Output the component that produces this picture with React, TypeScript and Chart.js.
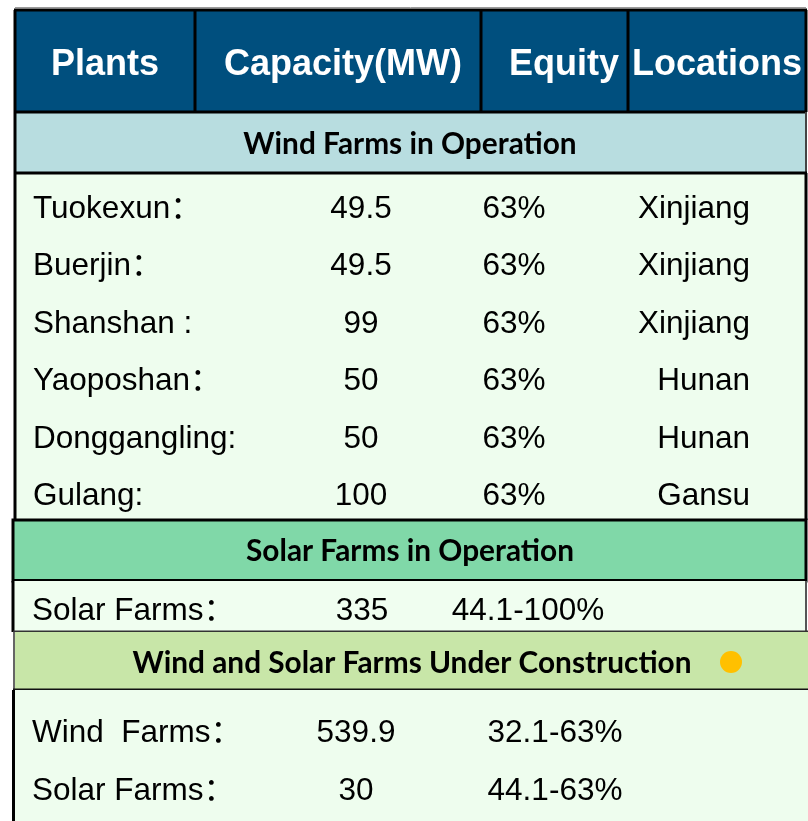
import React, { useEffect, useRef } from "react";
import { Chart, registerables } from "chart.js";

Chart.register(...registerables);

// ---------- data ----------
const headers = ["Plants", "Capacity(MW)", "Equity", "Locations"];

const windSectionTitle = "Wind Farms in Operation";
const windPlants = ["Tuokexun：", "Buerjin：", "Shanshan :", "Yaoposhan：", "Donggangling:", "Gulang:"];
const windCapacity = ["49.5", "49.5", "99", "50", "50", "100"];
const windEquity = ["63%", "63%", "63%", "63%", "63%", "63%"];
const windLocations = ["Xinjiang", "Xinjiang", "Xinjiang", "Hunan", "Hunan", "Gansu"];

const solarSectionTitle = "Solar Farms in Operation";
const solarPlants = ["Solar Farms："];
const solarCapacity = ["335"];
const solarEquity = ["44.1-100%"];

const constructionSectionTitle = "Wind and Solar Farms Under Construction";
const constructionPlants = ["Wind  Farms：", "Solar Farms："];
const constructionCapacity = ["539.9", "30"];
const constructionEquity = ["32.1-63%", "44.1-63%"];

// ---------- layout (scale units == page pixels) ----------
const W = 808;
const H = 821;
const COLS = [15, 195, 481, 628, 806];
const HEADER = [10, 112];
const WIND_BAND = [112, 173];
const WIND_BODY = [173, 520];
const SOLAR_BAND = [520, 581];
const SOLAR_BODY = [581, 632];
const CONS_BAND = [632, 690];
const CONS_BODY = [690, 821];

const NAME_X = 33;
const CAP_X = 361;
const EQ_X = 514;
const LOC_RIGHT = 750;
const WIND_BASE0 = 218;
const WIND_STEP = 57.4;

const BODY_FONT = "31.5px 'Liberation Sans', Arial, 'Noto Sans CJK SC', sans-serif";
const HEAD_FONT = "bold 36px 'Liberation Sans', Arial, sans-serif";
const BAND_FONT = "bold 29.8px Lato, 'Open Sans', sans-serif";

const tablePlugin = {
  id: "tableDraw",
  beforeDatasetsDraw(chart: any) {
    const ctx = chart.ctx as CanvasRenderingContext2D;
    const xs = chart.scales.x;
    const ys = chart.scales.y;
    const X = (v: number) => xs.getPixelForValue(v);
    const Y = (v: number) => ys.getPixelForValue(v);

    const fillRect = (x0: number, y0: number, x1: number, y1: number, color: string) => {
      ctx.fillStyle = color;
      ctx.fillRect(X(x0), Y(y0), X(x1) - X(x0), Y(y1) - Y(y0));
    };
    const line = (x0: number, y0: number, x1: number, y1: number, color = "#000", w = 3) => {
      ctx.strokeStyle = color;
      ctx.lineWidth = w;
      ctx.beginPath();
      ctx.moveTo(X(x0), Y(y0));
      ctx.lineTo(X(x1), Y(y1));
      ctx.stroke();
    };
    const text = (s: string, x: number, y: number, font: string, color: string, align: CanvasTextAlign) => {
      ctx.font = font;
      ctx.fillStyle = color;
      ctx.textAlign = align;
      ctx.textBaseline = "alphabetic";
      ctx.fillText(s, X(x), Y(y));
    };

    ctx.save();
    fillRect(0, 0, W, H, "#ffffff");

    // header
    fillRect(COLS[0], HEADER[0], COLS[4], HEADER[1], "#004F7E");
    line(COLS[0], HEADER[0] - 2.5, COLS[4], HEADER[0] - 2.5, "#9a9a9a", 1);
    line(COLS[0] - 1, HEADER[0], COLS[4] + 1, HEADER[0]);
    line(COLS[0], HEADER[0], COLS[0], HEADER[1]);
    line(COLS[4], HEADER[0], COLS[4], HEADER[1]);
    for (let i = 1; i < COLS.length - 1; i++) line(COLS[i], HEADER[0], COLS[i], HEADER[1]);
    const headerCenters = [105, 343, 564, 717];
    headers.forEach((h, i) => text(h, headerCenters[i], 75, HEAD_FONT, "#ffffff", "center"));

    // wind band
    fillRect(COLS[0], WIND_BAND[0], COLS[4], WIND_BAND[1], "#B8DDE0");
    line(COLS[0] - 1, WIND_BAND[0], COLS[4] + 1, WIND_BAND[0]);
    line(COLS[0], WIND_BAND[0], COLS[0], WIND_BAND[1]);
    line(COLS[4], WIND_BAND[0], COLS[4], WIND_BAND[1], "#444", 2);
    text(windSectionTitle, 410, 154, BAND_FONT, "#000", "center");

    // wind body
    fillRect(COLS[0], WIND_BODY[0], COLS[4], WIND_BODY[1], "#EEFDEE");
    line(COLS[0] - 1, WIND_BODY[0], COLS[4] + 1, WIND_BODY[0]);
    line(COLS[0], WIND_BODY[0], COLS[0], WIND_BODY[1]);
    line(COLS[4], WIND_BODY[0], COLS[4], WIND_BODY[1]);
    windPlants.forEach((p, i) => {
      const b = WIND_BASE0 + WIND_STEP * i;
      text(p, NAME_X, b, BODY_FONT, "#000", "left");
      text(windCapacity[i], CAP_X, b, BODY_FONT, "#000", "center");
      text(windEquity[i], EQ_X, b, BODY_FONT, "#000", "center");
      text(windLocations[i], LOC_RIGHT, b, BODY_FONT, "#000", "right");
    });

    // solar band
    fillRect(13, SOLAR_BAND[0], 807, SOLAR_BAND[1], "#80D8A8");
    ctx.strokeStyle = "#000";
    ctx.lineWidth = 3;
    ctx.strokeRect(X(13), Y(SOLAR_BAND[0]), X(806) - X(13), Y(SOLAR_BAND[1]) - Y(SOLAR_BAND[0]));
    line(13, SOLAR_BAND[1], 807, SOLAR_BAND[1], "#000", 4);
    text(solarSectionTitle, 410, 561, BAND_FONT, "#000", "center");

    // solar body
    fillRect(13, SOLAR_BODY[0], 806, SOLAR_BODY[1], "#F0FEF0");
    line(13, SOLAR_BODY[0], 13, SOLAR_BODY[1]);
    line(806, SOLAR_BODY[0], 806, SOLAR_BODY[1], "#555", 2);
    line(13, SOLAR_BODY[1], 808, SOLAR_BODY[1], "#333", 3);
    solarPlants.forEach((p, i) => {
      text(p, 32, 620, BODY_FONT, "#000", "left");
      text(solarCapacity[i], 362, 620, BODY_FONT, "#000", "center");
      text(solarEquity[i], 528, 620, BODY_FONT, "#000", "center");
    });

    // construction band
    fillRect(14, CONS_BAND[0], W, CONS_BAND[1], "#C8E6A8");
    line(14, CONS_BAND[0], 14, CONS_BAND[1], "#666", 2);
    line(13, CONS_BAND[1], W, CONS_BAND[1], "#111", 3);
    text(constructionSectionTitle, 412, 673, BAND_FONT, "#000", "center");

    // construction body
    fillRect(14, CONS_BODY[0], W, CONS_BODY[1], "#EEFDEE");
    line(13.5, CONS_BODY[0], 13.5, CONS_BODY[1]);
    constructionPlants.forEach((p, i) => {
      const b = 742 + 58 * i;
      text(p, 32, b, BODY_FONT, "#000", "left");
      text(constructionCapacity[i], 356, b, BODY_FONT, "#000", "center");
      text(constructionEquity[i], 555, b, BODY_FONT, "#000", "center");
    });
    ctx.restore();
  },
};

// marker dot beside the "Under Construction" title
const markerPoints = [{ x: 731, y: 662 }];

export default function App() {
  const ref = useRef<HTMLCanvasElement | null>(null);
  useEffect(() => {
    if (!ref.current) return;
    const chart = new Chart(ref.current, {
      type: "scatter",
      data: {
        datasets: [
          {
            data: markerPoints,
            pointRadius: 11,
            pointHoverRadius: 11,
            backgroundColor: "#FFC000",
            borderWidth: 0,
            clip: false,
          },
        ],
      },
      options: {
        animation: false,
        responsive: false,
        maintainAspectRatio: false,
        devicePixelRatio: 1,
        layout: { padding: 0, autoPadding: false },
        events: [],
        plugins: { legend: { display: false }, tooltip: { enabled: false } },
        scales: {
          x: { type: "linear", min: 0, max: W, display: false },
          y: { type: "linear", min: 0, max: H, reverse: true, display: false },
        },
      },
      plugins: [tablePlugin],
    } as any);
    return () => chart.destroy();
  }, []);
  return (
    <div style={{ position: "absolute", left: 0, top: 0, width: W, height: H }}>
      <canvas ref={ref} width={W} height={H} style={{ display: "block", width: W, height: H }} />
    </div>
  );
}
